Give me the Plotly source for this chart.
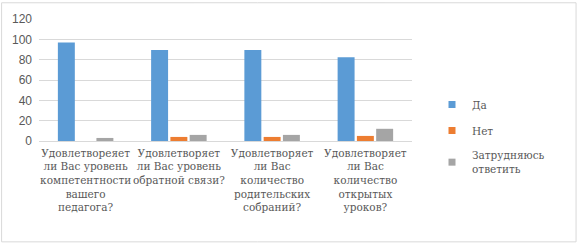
import plotly.graph_objects as go

categories = [
    "Удовлетвореяет<br>ли Вас уровень<br>компетентности<br>вашего<br>педагога?",
    "Удовлетворяет<br>ли Вас уровень<br>обратной связи?",
    "Удовлетворяет<br>ли Вас<br>количество<br>родительских<br>собраний?",
    "Удовлетворяет<br>ли Вас<br>количество<br>открытых<br>уроков?",
]
da = [97, 89.5, 89.5, 82.5]
net = [0, 4, 4, 5]
zatr = [3, 6, 6, 12]
series_names = ["Да", "Нет", "Затрудняюсь<br>ответить"]
colors = ["#5B9BD5", "#ED7D31", "#A5A5A5"]
y_ticks = [0, 20, 40, 60, 80, 100, 120]

W, H = 578, 246
ML, MR, MT, MB = 38, 166, 17, 105
SERIF = "DejaVu Serif"

fig = go.Figure()
for i, (name, vals) in enumerate(zip(series_names, [da, net, zatr])):
    fig.add_trace(go.Bar(
        x=categories, y=vals, name=name, marker_color=colors[i],
        marker_line_width=0, showlegend=False,
    ))
for i, name in enumerate(series_names):
    fig.add_trace(go.Scatter(
        x=[None], y=[None], mode="markers", name=name,
        marker=dict(symbol="square", size=7, color=colors[i]),
        legendgroup=str(i), showlegend=True,
    ))

pw = W - ML - MR
ph = H - MT - MB
def px2x(px):
    return (px - ML) / pw
def py2y(py):
    return (H - MB - py) / ph

fig.update_layout(
    width=W, height=H,
    margin=dict(l=ML, r=MR, t=MT, b=MB),
    paper_bgcolor="white", plot_bgcolor="white",
    barmode="group", bargap=0.38, bargroupgap=0.12,
    showlegend=True,
    legend=dict(
        xref="container", yref="container",
        x=432 / W, y=1 - 90 / H, xanchor="left", yanchor="top",
        font=dict(family=SERIF, size=10.5, color="#595959"),
        traceorder="grouped", tracegroupgap=7,
        itemwidth=30, bgcolor="rgba(0,0,0,0)",
    ),
    xaxis=dict(
        showgrid=False, showline=True, linecolor="#d9d9d9", linewidth=1,
        tickfont=dict(family=SERIF, size=10.5, color="#595959"),
        ticks="", tickangle=0, ticklabelstandoff=2,
    ),
    yaxis=dict(
        range=[0, 120], tickvals=y_ticks, showgrid=True, gridcolor="#d9d9d9",
        gridwidth=1, zeroline=False, showline=False, ticks="",
        tickfont=dict(family="Liberation Sans", size=12, color="#595959"),
        ticklabelstandoff=6,
    ),
    shapes=[dict(
        type="rect", xref="paper", yref="paper",
        x0=px2x(0.5), x1=px2x(W - 1.5), y0=py2y(0.5), y1=py2y(H - 2.5),
        line=dict(color="#d9d9d9", width=1), fillcolor="rgba(0,0,0,0)",
        layer="below",
    )],
)

fig.write_html(
    "out.html",
    config={"displayModeBar": False},
    post_script="document.body.style.margin='0';document.body.style.overflow='hidden';",
)
